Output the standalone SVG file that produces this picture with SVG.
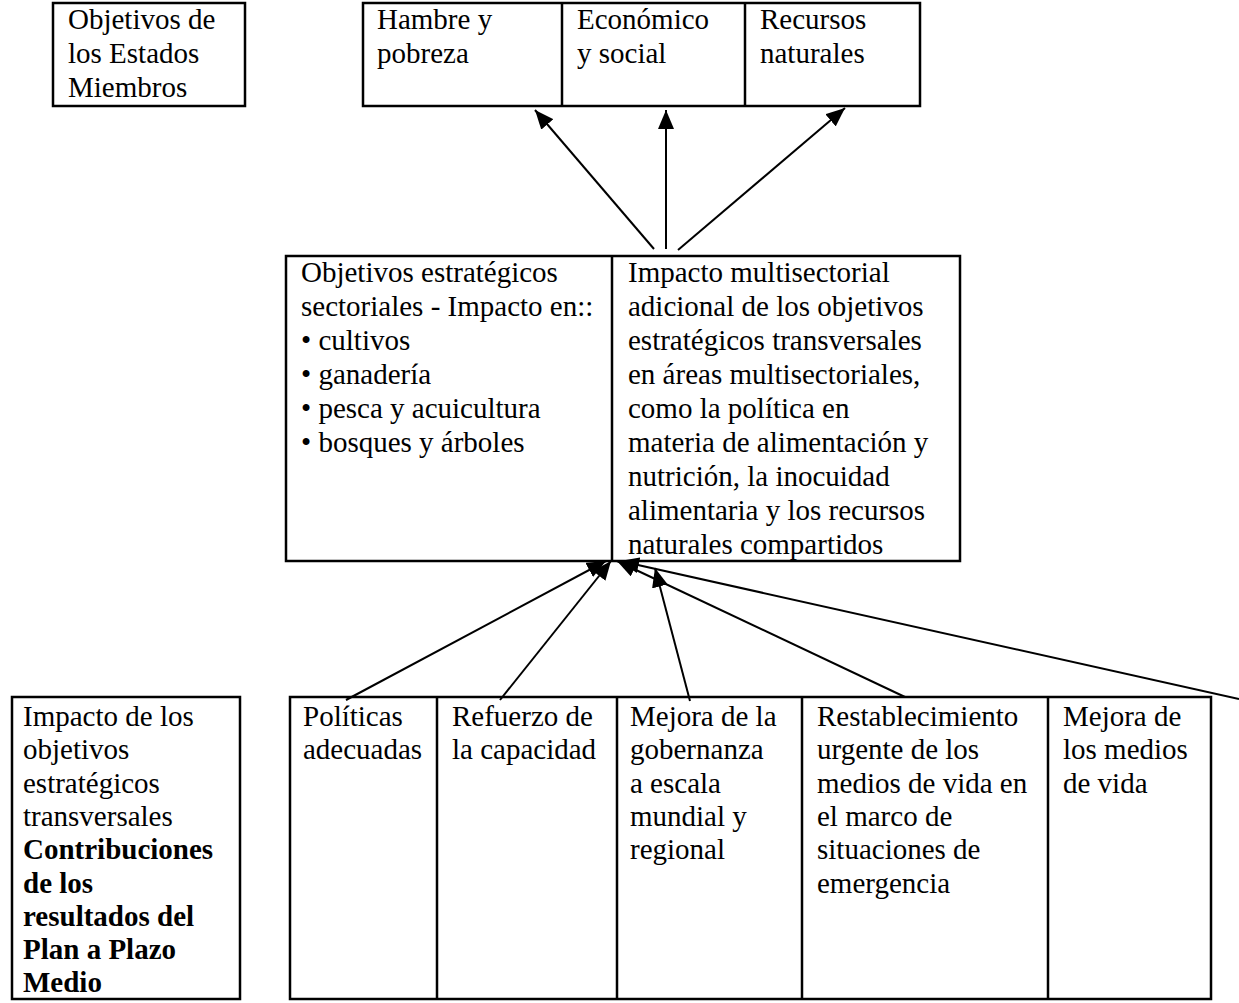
<svg xmlns="http://www.w3.org/2000/svg" width="1239" height="1003" viewBox="0 0 1239 1003">
<style>
.box{fill:#fff;stroke:#000;stroke-width:2.5}
.div{stroke:#000;stroke-width:2.5}
.t{font-family:"Liberation Serif","Times New Roman",serif;font-size:29px;fill:#000}
.b{font-weight:bold}
.c{stroke:#000;stroke-width:2;fill:none;marker-end:url(#ah)}
</style>
<defs>
<marker id="ah" markerUnits="userSpaceOnUse" markerWidth="20" markerHeight="16" refX="19" refY="8" orient="auto">
<path d="M0,0 L19,8 L0,16 Z" fill="#000"/>
</marker>
</defs>
<rect width="1239" height="1003" fill="#fff"/>

<g id="estados">
<rect class="box" x="53" y="3" width="192" height="103"/>
<text class="t"><tspan x="68" y="29">Objetivos de</tspan><tspan x="68" y="63">los Estados</tspan><tspan x="68" y="97">Miembros</tspan></text>
</g>

<g id="top">
<rect class="box" x="363" y="3" width="557" height="103"/>
<line class="div" x1="562" y1="3" x2="562" y2="106"/>
<line class="div" x1="745" y1="3" x2="745" y2="106"/>
<g id="hambre"><text class="t"><tspan x="377" y="29">Hambre y</tspan><tspan x="377" y="63">pobreza</tspan></text></g>
<g id="economico"><text class="t"><tspan x="577" y="29">Económico</tspan><tspan x="577" y="63">y social</tspan></text></g>
<g id="recursos"><text class="t"><tspan x="760" y="29">Recursos</tspan><tspan x="760" y="63">naturales</tspan></text></g>
</g>

<g id="middle">
<rect class="box" x="286" y="256" width="674" height="305"/>
<line class="div" x1="612" y1="256" x2="612" y2="561"/>
<g id="sectoriales"><text class="t"><tspan x="301" y="282">Objetivos estratégicos</tspan><tspan x="301" y="316">sectoriales - Impacto en::</tspan><tspan x="301" y="350">• cultivos</tspan><tspan x="301" y="384">• ganadería</tspan><tspan x="301" y="418">• pesca y acuicultura</tspan><tspan x="301" y="452">• bosques y árboles</tspan></text></g>
<g id="multisectorial"><text class="t"><tspan x="628" y="282">Impacto multisectorial</tspan><tspan x="628" y="316">adicional de los objetivos</tspan><tspan x="628" y="350">estratégicos transversales</tspan><tspan x="628" y="384">en áreas multisectoriales,</tspan><tspan x="628" y="418">como la política en</tspan><tspan x="628" y="452">materia de alimentación y</tspan><tspan x="628" y="486">nutrición, la inocuidad</tspan><tspan x="628" y="520">alimentaria y los recursos</tspan><tspan x="628" y="554">naturales compartidos</tspan></text></g>
</g>

<g id="transversales">
<rect class="box" x="12" y="697" width="228" height="302"/>
<text class="t"><tspan x="23" y="726">Impacto de los</tspan><tspan x="23" y="759">objetivos</tspan><tspan x="23" y="793">estratégicos</tspan><tspan x="23" y="826">transversales</tspan><tspan class="b" x="23" y="859">Contribuciones</tspan><tspan class="b" x="23" y="893">de los</tspan><tspan class="b" x="23" y="926">resultados del</tspan><tspan class="b" x="23" y="959">Plan a Plazo</tspan><tspan class="b" x="23" y="992">Medio</tspan></text>
</g>

<g id="bottom">
<rect class="box" x="290" y="697" width="921" height="302"/>
<line class="div" x1="437" y1="697" x2="437" y2="999"/>
<line class="div" x1="617" y1="697" x2="617" y2="999"/>
<line class="div" x1="802" y1="697" x2="802" y2="999"/>
<line class="div" x1="1048" y1="697" x2="1048" y2="999"/>
<g id="politicas"><text class="t"><tspan x="303" y="726">Políticas</tspan><tspan x="303" y="759">adecuadas</tspan></text></g>
<g id="refuerzo"><text class="t"><tspan x="452" y="726">Refuerzo de</tspan><tspan x="452" y="759">la capacidad</tspan></text></g>
<g id="gobernanza"><text class="t"><tspan x="630" y="726">Mejora de la</tspan><tspan x="630" y="759">gobernanza</tspan><tspan x="630" y="793">a escala</tspan><tspan x="630" y="826">mundial y</tspan><tspan x="630" y="859">regional</tspan></text></g>
<g id="restablecimiento"><text class="t"><tspan x="817" y="726">Restablecimiento</tspan><tspan x="817" y="759">urgente de los</tspan><tspan x="817" y="793">medios de vida en</tspan><tspan x="817" y="826">el marco de</tspan><tspan x="817" y="859">situaciones de</tspan><tspan x="817" y="893">emergencia</tspan></text></g>
<g id="medios"><text class="t"><tspan x="1063" y="726">Mejora de</tspan><tspan x="1063" y="759">los medios</tspan><tspan x="1063" y="793">de vida</tspan></text></g>
</g>

<g id="connectors">
<line class="c" x1="654" y1="249" x2="535" y2="110"/>
<line class="c" x1="666" y1="249" x2="666" y2="110"/>
<line class="c" x1="678" y1="250" x2="845" y2="108"/>
<line class="c" x1="346" y1="700" x2="606" y2="561"/>
<line class="c" x1="500" y1="700" x2="611" y2="561"/>
<line class="c" x1="690" y1="701" x2="655" y2="568"/>
<line class="c" x1="905" y1="697" x2="617" y2="561"/>
<line class="c" x1="1239" y1="699" x2="620" y2="561"/>
</g>
</svg>
